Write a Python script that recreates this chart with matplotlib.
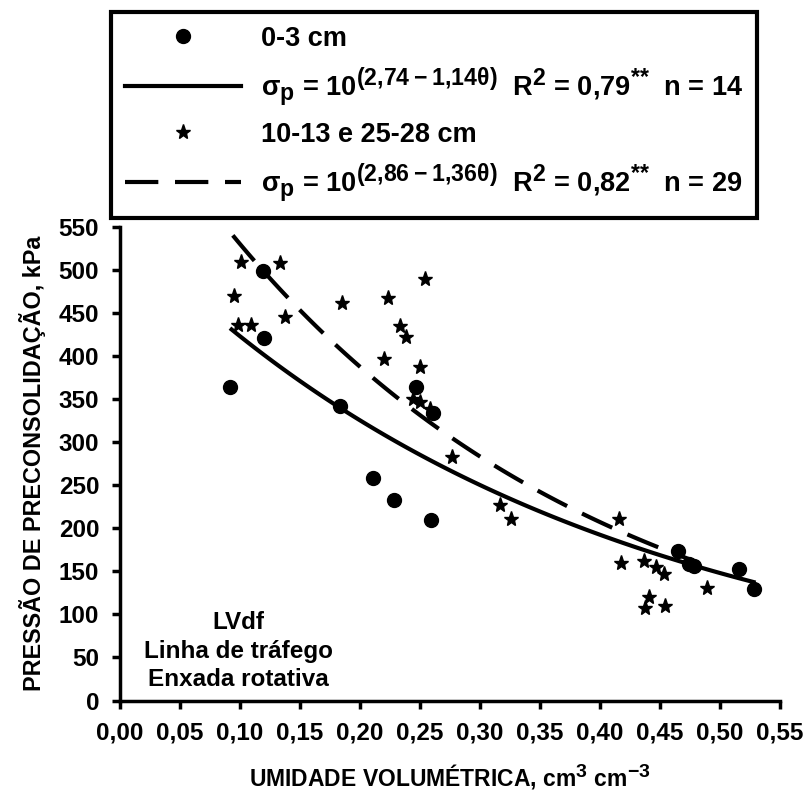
import numpy as np
import matplotlib
matplotlib.use("Agg")
import matplotlib.pyplot as plt
import matplotlib._mathtext as mathtext

# superscripts in the original are nearly full size
mathtext.SHRINK_FACTOR = 0.85

plt.rcParams["font.family"] = ["Liberation Sans", "DejaVu Sans"]
plt.rcParams["font.weight"] = "bold"
plt.rcParams["axes.labelweight"] = "bold"
plt.rcParams["mathtext.default"] = "regular"


# 0-3 cm
circ_x = [0.092, 0.119, 0.120, 0.183, 0.247, 0.261, 0.211, 0.228, 0.259,
          0.465, 0.474, 0.478, 0.516, 0.528]
circ_y = [364, 498, 421, 342, 364, 334, 258, 233, 210,
          173, 158, 156, 153, 129]

# 10-13 e 25-28 cm
star_x = [0.101, 0.133, 0.095, 0.098, 0.109, 0.1375, 0.185, 0.223, 0.254,
          0.233, 0.238, 0.220, 0.250, 0.244, 0.250, 0.258, 0.277, 0.317,
          0.326, 0.416, 0.4175, 0.437, 0.447, 0.453, 0.441, 0.4375, 0.454,
          0.489]
star_y = [509, 508, 469, 436, 436, 445, 461, 467, 489,
          435, 422, 396, 387, 350, 346, 338, 282, 227,
          211, 211, 159, 162, 155, 147, 120, 107, 110,
          131]

# fitted models  sigma_p = 10^(a - b*theta)
fit1 = (2.74, 1.14, 0.093, 0.528)
fit2 = (2.86, 1.36, 0.094, 0.478)

x_ticks = np.arange(0, 0.5501, 0.05)
y_ticks = np.arange(0, 551, 50)


fig = plt.figure(figsize=(8.1, 8.08), dpi=100)
ax = fig.add_axes([120 / 810, 107.5 / 808, 660 / 810, 474 / 808])

t1 = np.linspace(fit1[2], fit1[3], 100)
t2 = np.linspace(fit2[2], fit2[3], 100)

line1, = ax.plot(t1, 10 ** (fit1[0] - fit1[1] * t1), color="black", lw=3, zorder=2)
line2, = ax.plot(t2, 10 ** (fit2[0] - fit2[1] * t2), color="black", lw=3,
                 dashes=(8, 4), zorder=2)

circles, = ax.plot(circ_x, circ_y, "o", color="black", ms=10, zorder=3)
stars, = ax.plot(star_x, star_y, "*", color="black", ms=11, zorder=3)

ax.set_xlim(0, 0.55)
ax.set_ylim(0, 550)
ax.set_xticks(x_ticks)
ax.set_yticks(y_ticks)
ax.set_xticklabels([f"{v:.2f}".replace(".", ",") for v in x_ticks])
ax.set_yticklabels([str(int(v)) for v in y_ticks])

for s in ["top", "right"]:
    ax.spines[s].set_visible(False)
for s in ["left", "bottom"]:
    ax.spines[s].set_linewidth(2.5)

ax.tick_params(direction="out", length=6, width=2.5, labelsize=17.5, pad=9)

ax.set_xlabel(r"UMIDADE VOLUMÉTRICA, cm$^\mathregular{3}$ cm$^\mathregular{-3}$",
              fontsize=16.5, labelpad=12)
ax.set_ylabel("PRESSÃO DE PRECONSOLIDAÇÃO, kPa", fontsize=16.8, labelpad=9)

ax.text((238 - 120) / 660, 0.019, "LVdf\nLinha de tráfego\nEnxada rotativa",
        transform=ax.transAxes, ha="center", va="bottom", fontsize=17.5,
        linespacing=1.32)

labels = [
    "0-3 cm",
    r"σ$_\mathregular{p}$ = 10$^\mathregular{(2{,}74 - 1{,}14θ)}$  R$^\mathregular{2}$ = 0,79$^\mathregular{{*}{*}}$  n = 14",
    "10-13 e 25-28 cm",
    r"σ$_\mathregular{p}$ = 10$^\mathregular{(2{,}86 - 1{,}36θ)}$  R$^\mathregular{2}$ = 0,82$^\mathregular{{*}{*}}$  n = 29",
]

leg = fig.legend([circles, line1, stars, line2], labels,
                 loc="upper left", bbox_to_anchor=(111 / 810, 1 - 12 / 808),
                 borderaxespad=0, fontsize=19.5, frameon=True, fancybox=False,
                 framealpha=1, edgecolor="black", handlelength=4.3,
                 handletextpad=0.75, labelspacing=0.5, borderpad=0.5)
leg.get_frame().set_linewidth(3)

fig.savefig("out.png", dpi=100)
